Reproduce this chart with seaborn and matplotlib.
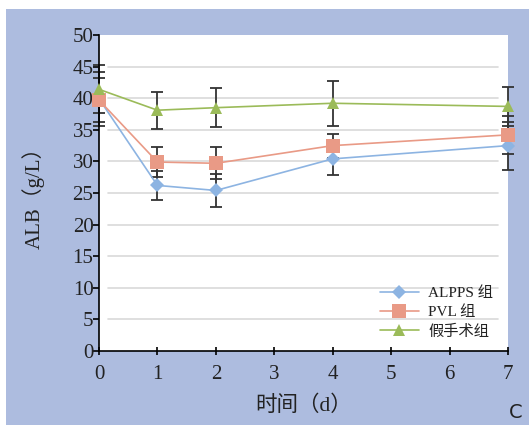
import matplotlib
matplotlib.use("Agg")
import matplotlib.pyplot as plt
from matplotlib.patches import Rectangle
import seaborn as sns
import pandas as pd

# values
days = [0, 1, 2, 4, 7]
alpps = [39.9, 26.2, 25.4, 30.4, 32.5]
alpps_err = [4.3, 2.3, 2.6, 2.6, 3.8]
pvl = [39.7, 29.9, 29.7, 32.5, 34.2]
pvl_err = [3.5, 2.3, 2.5, 1.9, 3.0]
sham = [41.4, 38.1, 38.5, 39.2, 38.7]
sham_err = [3.8, 2.9, 3.1, 3.6, 3.1]

labels = ["ALPPS 组", "PVL 组", "假手术组"]
colors = ["#8DB4E2", "#E99A86", "#9BBB59"]
markers = ["D", "s", "^"]
msizes = [7, 10, 9]

sns.set_theme(style="white")
plt.rcParams["font.family"] = ["Liberation Serif", "Noto Sans CJK SC"]

W, H = 529, 425
fig = plt.figure(figsize=(W / 100, H / 100), dpi=100, facecolor="white")
bg = Rectangle((6 / W, 0), 1 - 6 / W, 1 - 9 / H, transform=fig.transFigure,
               facecolor="#ADBCDF", edgecolor="none", zorder=-10)
fig.patches.append(bg)
ax = fig.add_axes([99 / W, 74 / H, 409 / W, 316 / H])
ax.set_facecolor("white")

series = [(alpps, alpps_err), (pvl, pvl_err), (sham, sham_err)]
df = pd.DataFrame({"day": days * 3,
                   "alb": alpps + pvl + sham,
                   "group": [labels[0]] * 5 + [labels[1]] * 5 + [labels[2]] * 5})

# grid lines (inset, like the original)
for yv in range(5, 50, 5):
    ax.axhline(yv, xmin=0.022, xmax=0.976, color="#D9D9D9", lw=1.2, zorder=1)

# error bars under the markers
for (vals, errs) in series:
    ax.errorbar(days, vals, yerr=errs, fmt="none", ecolor="#333333",
                elinewidth=1.3, capsize=4, capthick=1.3, zorder=2, clip_on=False)

handles = {}
for i in [1, 0, 2]:
    sub = df[df["group"] == labels[i]]
    sns.lineplot(data=sub, x="day", y="alb", ax=ax, color=colors[i], marker=markers[i],
                 markersize=msizes[i], markeredgewidth=0, lw=1.2, label=labels[i],
                 zorder=3 + i, clip_on=False, legend=False)
    handles[i] = ax.lines[-1]

ax.set_xlim(0, 7)
ax.set_ylim(0, 50)
ax.set_xticks(range(0, 8))
ax.set_yticks(range(0, 55, 5))
ax.tick_params(axis="y", direction="out", length=4, width=1.2, color="black",
               labelsize=15, pad=0, left=True)
ax.tick_params(axis="x", direction="inout", length=6, width=1.2, color="black",
               labelsize=15, pad=7, bottom=True)
for s in ["top", "right"]:
    ax.spines[s].set_visible(False)
for s in ["left", "bottom"]:
    ax.spines[s].set_color("black")
    ax.spines[s].set_linewidth(1.2)
for t in ax.get_xticklabels() + ax.get_yticklabels():
    t.set_color("#222222")

ax.set_xlabel("时间（d）", fontsize=15.5, color="#222222", labelpad=8)
ax.set_ylabel("ALB（g/L）", fontsize=15, color="#222222", labelpad=20)

leg = ax.legend([handles[0], handles[1], handles[2]], labels, frameon=False,
                loc="lower right", bbox_to_anchor=(0.998, -0.005), fontsize=11,
                handlelength=2.6, handletextpad=0.6, labelspacing=0.35)
for t in leg.get_texts():
    t.set_color("#222222")

fig.text(516 / W, 1 - 412 / H, "C", fontsize=14, family="DejaVu Sans",
         color="#222222", ha="center", va="center")

fig.savefig("out.png", dpi=100)
